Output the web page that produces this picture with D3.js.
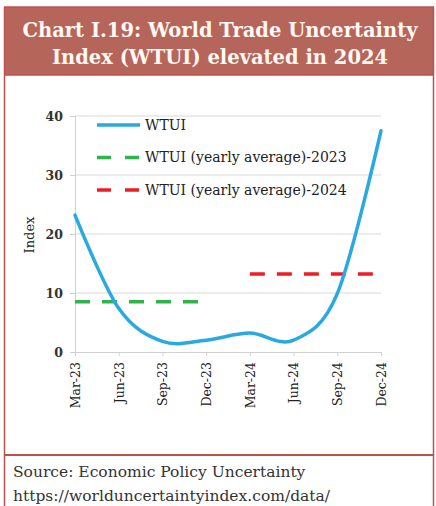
<!DOCTYPE html>
<html>
<head>
<meta charset="utf-8">
<script src="https://d3js.org/d3.v7.min.js"></script>
<style>
  body { margin: 0; background: #fff; }
  svg { display: block; }
</style>
</head>
<body>
<svg width="436" height="506"></svg>
<script>
// quarterly WTUI readings
var quarters = ["Mar-23","Jun-23","Sep-23","Dec-23","Mar-24","Jun-24","Sep-24","Dec-24"];
var wtui = [23.2, 7.4, 1.8, 2.0, 3.2, 2.0, 9.9, 37.5];
var avgYears = ["2023", "2024"];
var avgValues = [8.5, 13.2];
var avgSpans = [["Mar-23","Dec-23"], ["Mar-24","Dec-24"]];
var yTicks = [0, 10, 20, 30, 40];
var legendLabels = ["WTUI", "WTUI (yearly average)-2023", "WTUI (yearly average)-2024"];

var blue = "#2aa9e0", green = "#2fb44a", red = "#ee1d24";
var border = "#c0504d";
var serif = "'DejaVu Serif', 'Liberation Serif', serif";

var svg = d3.select("svg");

// frame
svg.append("rect").attr("x", 5).attr("y", 7).attr("width", 428).attr("height", 68)
  .attr("fill", "#b5655a");
svg.append("line").attr("x1", 4.5).attr("x2", 4.5).attr("y1", 7).attr("y2", 506)
  .attr("stroke", border).attr("stroke-width", 1.5);
svg.append("line").attr("x1", 433.5).attr("x2", 433.5).attr("y1", 7).attr("y2", 506)
  .attr("stroke", border).attr("stroke-width", 1.5);
svg.append("line").attr("x1", 4).attr("x2", 434).attr("y1", 7).attr("y2", 7)
  .attr("stroke", border).attr("stroke-width", 1.5);
svg.append("line").attr("x1", 4).attr("x2", 434).attr("y1", 75).attr("y2", 75)
  .attr("stroke", border).attr("stroke-width", 1.5);
svg.append("line").attr("x1", 4).attr("x2", 434).attr("y1", 455).attr("y2", 455)
  .attr("stroke", border).attr("stroke-width", 2);

var title = svg.append("text").attr("text-anchor", "middle")
  .attr("font-family", serif).attr("font-weight", "bold").attr("font-size", 19.5)
  .attr("fill", "#fff8f2");
title.append("tspan").attr("x", 220).attr("y", 37).text("Chart I.19: World Trade Uncertainty");
title.append("tspan").attr("x", 220).attr("y", 64).text("Index (WTUI) elevated in 2024");

// scales
var x = d3.scalePoint().domain(quarters).range([75, 381]);
var y = d3.scaleLinear().domain([0, 40]).range([352, 116]);

// gridlines
svg.append("g").selectAll("line").data(yTicks.slice(1)).join("line")
  .attr("x1", 75).attr("x2", 381)
  .attr("y1", d => y(d)).attr("y2", d => y(d))
  .attr("stroke", "#d9d9d9").attr("stroke-width", 1);

var yAxis = svg.append("g").attr("transform", "translate(75,0)")
  .call(d3.axisLeft(y).tickValues(yTicks).tickSize(5).tickPadding(7));
yAxis.select(".domain").attr("stroke", "#d0d0d0");
yAxis.selectAll(".tick line").attr("stroke", "#d0d0d0");
yAxis.selectAll("text").attr("font-family", serif).attr("font-weight", "bold")
  .attr("font-size", 12.5).attr("fill", "#333");

var xAxis = svg.append("g").attr("transform", "translate(0,352)")
  .call(d3.axisBottom(x).tickSize(4).tickSizeOuter(0));
xAxis.select(".domain").attr("stroke", "#d0d0d0");
xAxis.selectAll(".tick line").attr("stroke", "#d0d0d0");
xAxis.selectAll("text")
  .attr("font-family", serif).attr("font-size", 12.5).attr("fill", "#222")
  .attr("transform", "rotate(-90)")
  .attr("x", -10).attr("y", 0).attr("dy", "0.35em")
  .style("text-anchor", "end");

svg.append("text").attr("transform", "translate(34,235) rotate(-90)")
  .attr("text-anchor", "middle").attr("font-family", serif).attr("font-size", 13)
  .attr("fill", "#222").text("Index");

// yearly averages
var avgColors = [green, red];
svg.append("g").selectAll("line").data(avgValues).join("line")
  .attr("x1", (d, i) => x(avgSpans[i][0]))
  .attr("x2", (d, i) => x(avgSpans[i][1]))
  .attr("y1", d => y(d)).attr("y2", d => y(d))
  .attr("stroke", (d, i) => avgColors[i]).attr("stroke-width", 3.5)
  .attr("stroke-dasharray", "15,12");

// WTUI line
var line = d3.line()
  .x((d, i) => x(quarters[i]))
  .y(d => y(d))
  .curve(d3.curveCatmullRom.alpha(0));
svg.append("path").datum(wtui)
  .attr("d", line).attr("fill", "none")
  .attr("stroke", blue).attr("stroke-width", 3.5).attr("stroke-linecap", "round");

// legend
var legColors = [blue, green, red];
var leg = svg.append("g").selectAll("g").data(legendLabels).join("g")
  .attr("transform", (d, i) => "translate(97," + (125 + i * 32.5) + ")");
leg.append("line").attr("x1", 0).attr("x2", 43)
  .attr("stroke", (d, i) => legColors[i]).attr("stroke-width", 3.5)
  .attr("stroke-dasharray", (d, i) => i === 0 ? null : "14,14");
leg.append("text").attr("x", 48).attr("dy", "0.35em")
  .attr("font-family", serif).attr("font-size", 14).attr("fill", "#222")
  .text(d => d);

// source
var src = svg.append("text").attr("font-family", serif).attr("font-size", 15.5)
  .attr("fill", "#333");
src.append("tspan").attr("x", 13).attr("y", 477).text("Source: Economic Policy Uncertainty");
src.append("tspan").attr("x", 13).attr("y", 501).text("https://worlduncertaintyindex.com/data/");
</script>
</body>
</html>
